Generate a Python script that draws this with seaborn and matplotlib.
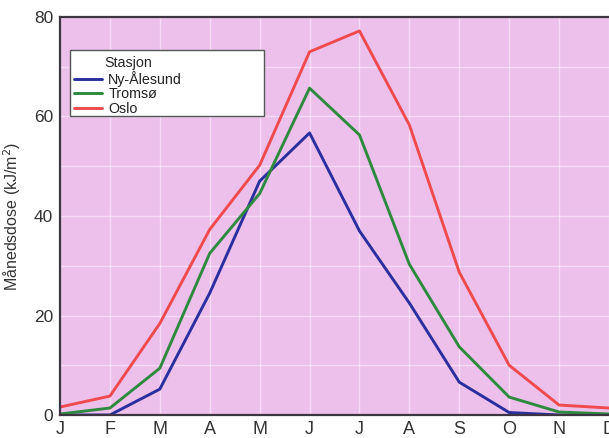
import matplotlib
matplotlib.use("Agg")
import matplotlib.pyplot as plt
import seaborn as sns
import pandas as pd
from matplotlib.patches import Rectangle

# Monthly UV dose per station (kJ/m^2)
months = ["J", "F", "M", "A", "M", "J", "J", "A", "S", "O", "N", "D"]
stations = ["Ny-Ålesund", "Tromsø", "Oslo"]
ny_alesund = [0.0, 0.0, 5.2, 24.5, 47.0, 56.7, 37.0, 22.5, 6.6, 0.5, 0.0, 0.0]
tromso = [0.2, 1.4, 9.4, 32.5, 44.5, 65.7, 56.3, 30.3, 13.7, 3.6, 0.6, 0.2]
oslo = [1.6, 3.8, 18.4, 37.3, 50.2, 73.0, 77.2, 58.3, 28.7, 10.0, 2.0, 1.4]
colors = ["#2b2f9e", "#2e8a3e", "#ef4a4e"]

rows = []
for name, vals in zip(stations, [ny_alesund, tromso, oslo]):
    for i, v in enumerate(vals):
        rows.append({"Maaned": i, "Dose": v, "Stasjon": name})
df = pd.DataFrame(rows)

sns.set_theme(style="whitegrid")
plt.rcParams["font.family"] = ["Liberation Sans", "DejaVu Sans"]

fig = plt.figure(figsize=(6.09, 4.38), dpi=100)
ax = fig.add_axes([60 / 609, 1 - 415 / 438, 1 - 60 / 609, 398 / 438])
ax.set_facecolor("#edc0ec")

sns.lineplot(data=df, x="Maaned", y="Dose", hue="Stasjon", hue_order=stations,
             palette=colors, linewidth=2.1, ax=ax, legend=True)

ax.set_xlim(0, 11)
ax.set_ylim(0, 80)
ax.set_xticks(range(12))
ax.set_xticklabels(months, fontsize=13)
ax.set_yticks([0, 20, 40, 60, 80])
ax.set_yticks(range(0, 81, 10), minor=True)
ax.tick_params(axis="y", labelsize=12.5, length=0, pad=5, colors="#333333")
ax.tick_params(axis="x", length=0, pad=4, colors="#333333")
ax.grid(True, which="both", color="white", linewidth=1.0, alpha=0.45)
ax.set_xlabel("")
ax.set_ylabel("Månedsdose (kJ/m$^2$)", fontsize=11.5, color="#333333", labelpad=8)

for side in ["left", "top", "bottom"]:
    ax.spines[side].set_color("#3c3440")
    ax.spines[side].set_linewidth(1.6)
ax.spines["right"].set_visible(False)

# legend box
ax.add_patch(Rectangle((10 / 550, 299 / 398), 194 / 550, 66 / 398, transform=ax.transAxes,
                       facecolor="white", edgecolor="#555555", linewidth=1.0, zorder=4))
leg = ax.legend(title="Stasjon", loc="upper left", bbox_to_anchor=(11 / 550, 362 / 398),
                frameon=False, fontsize=10.3, title_fontsize=10.3, handlelength=2.0,
                handletextpad=0.4, labelspacing=0.05, borderpad=0.2, borderaxespad=0)
leg.set_zorder(5)
for t in leg.get_texts():
    t.set_color("#222222")

fig.savefig("out.png", dpi=100)
